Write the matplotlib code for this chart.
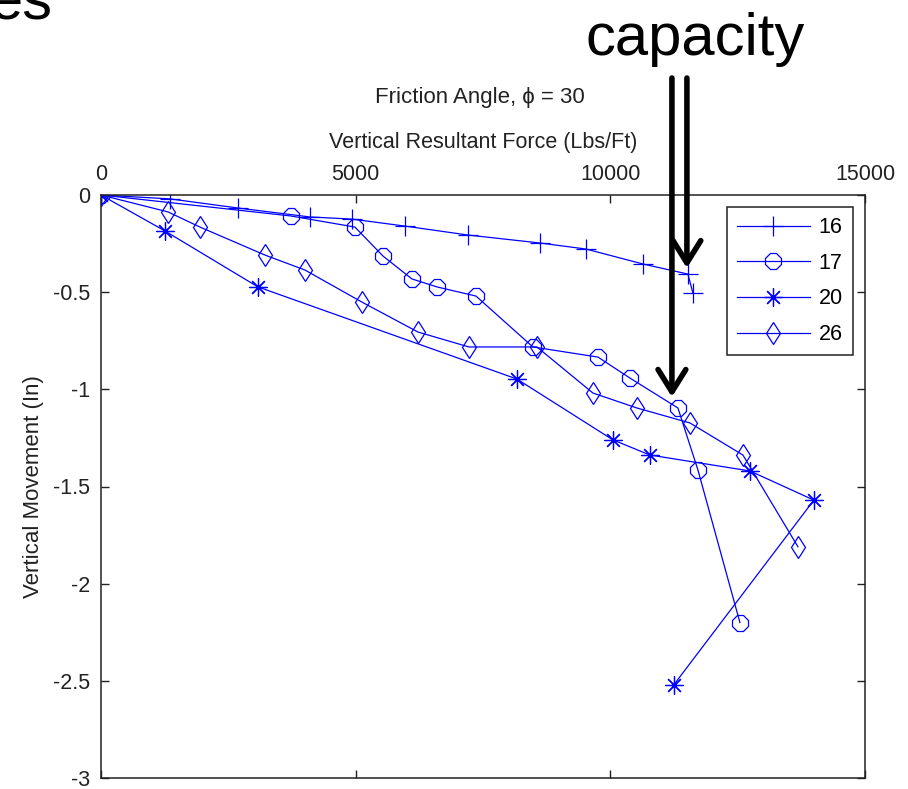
import numpy as np
import matplotlib
matplotlib.use("Agg")
import matplotlib.pyplot as plt

plt.rcParams["font.family"] = ["Liberation Sans", "DejaVu Sans"]
plt.rcParams["axes.unicode_minus"] = False

# ── Dati ─────────────────────────────────────────────────────────────────────
x16 = [0, 1355, 2690, 4103, 4928, 5968, 7205, 8618, 9521, 10640, 11523, 11621]
y16 = [0, -0.02, -0.067, -0.113, -0.124, -0.16, -0.206, -0.247, -0.278, -0.355, -0.407, -0.504]

x17 = [0, 3730, 4986, 5536, 6105, 6596, 7362, 8480, 9757, 10385, 11327, 11720, 12544]
y17 = [0, -0.108, -0.165, -0.314, -0.432, -0.473, -0.52, -0.782, -0.834, -0.942, -1.096, -1.415, -2.2]

x20 = [0, 1256, 3082, 8166, 10050, 10777, 12740, 13996, 11248]
y20 = [0, -0.185, -0.473, -0.947, -1.26, -1.338, -1.42, -1.57, -2.52]

x26 = [0, 1315, 1943, 3219, 4004, 5123, 6222, 7224, 8559, 9658, 10522, 11563, 12603, 13683]
y26 = [0, -0.087, -0.165, -0.309, -0.386, -0.551, -0.705, -0.782, -0.782, -1.019, -1.096, -1.173, -1.338, -1.81]

xticks = [0, 5000, 10000, 15000]
yticks = [0, -0.5, -1, -1.5, -2, -2.5, -3]

BLUE = "#0000ff"
INK = "#222222"
FS = 15.5
W, H = 908, 789

fig = plt.figure(figsize=(W / 100, H / 100), dpi=100)
ax = fig.add_axes([101 / W, 1 - 778 / H, 764 / W, 583 / H])

common = dict(color=BLUE, lw=0.9, mfc="none", mec=BLUE, mew=0.9)
ax.plot(x16, y16, marker="+", ms=15, label="16", **common)
ax.plot(x17, y17, marker="8", ms=13, label="17", **common)
ax.plot(x20, y20, marker=(8, 2, 0), ms=13, label="20", **common)   # asterisco stile MATLAB
ax.plot(x26, y26, marker="d", ms=11.5, label="26", **common)

ax.set_xlim(0, 15000)
ax.set_ylim(-3, 0)
ax.set_xticks(xticks)
ax.set_yticks(yticks)
ax.set_xticklabels([f"{v:g}" for v in xticks])
ax.set_yticklabels([f"{v:g}" for v in yticks])
ax.xaxis.tick_top()
ax.xaxis.set_label_position("top")
ax.tick_params(direction="in", length=6, width=1, top=True, bottom=True,
               left=True, right=True, labelsize=FS, colors=INK, pad=7)
ax.tick_params(axis="y", pad=8)
for s in ax.spines.values():
    s.set_linewidth(1.1)
    s.set_color(INK)

ax.set_xlabel("Vertical Resultant Force (Lbs/Ft)", fontsize=FS, labelpad=12, color=INK)
ax.set_ylabel("Vertical Movement (In)", fontsize=FS + 0.5, labelpad=6, color=INK)
fig.text(480 / W, 1 - 97 / H, "Friction Angle, \u03d5 = 30", fontsize=FS + 0.5,
         ha="center", va="center", color=INK)

leg = ax.legend(loc="upper right", fontsize=FS, handlelength=3.4, fancybox=False,
                framealpha=1, edgecolor=INK, borderaxespad=0.58,
                labelspacing=0.68, handletextpad=0.4, borderpad=0.45)
leg.get_frame().set_linewidth(1.1)

# ── Testo e frecce "capacity" ────────────────────────────────────────────────
fig.text(695 / W, 1 - 55 / H, "capacity", fontsize=43, ha="center",
         va="baseline", color="black")
fig.text(53 / W, 1 - 19 / H, "es", fontsize=43, ha="right", va="baseline",
         color="black")

def arrow_to(xd, yd, dx, dy):
    px, py = ax.transData.transform((xd, yd))
    tip = (px + dx, py + dy)
    ax.annotate("", xy=tip, xycoords="figure pixels",
                xytext=(tip[0], H - 78), textcoords="figure pixels",
                arrowprops=dict(arrowstyle="->,head_length=0.8,head_width=0.5",
                                lw=4, color="black", mutation_scale=20,
                                shrinkA=0, shrinkB=0),
                annotation_clip=False)

arrow_to(x17[10], y17[10], -6, 11)
arrow_to(x16[10], y16[10], -1, 6)

fig.savefig("out.png", dpi=100)
